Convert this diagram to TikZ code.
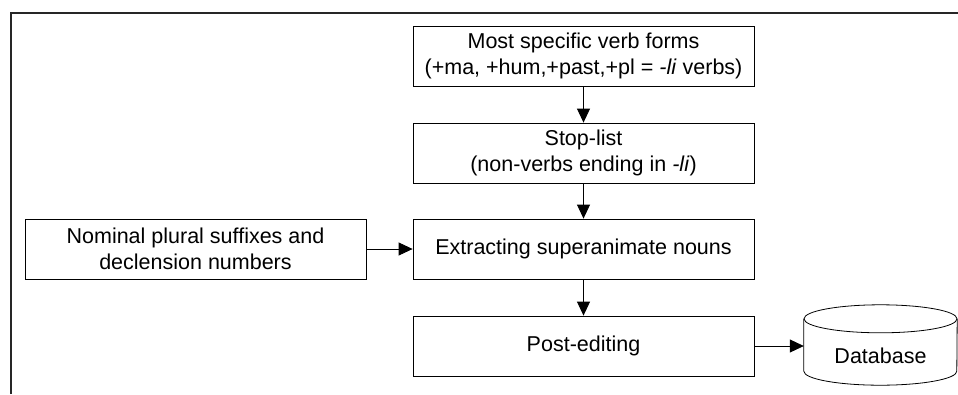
\documentclass[tikz,border=0pt]{standalone}
\usepackage{fontspec}
\setmainfont{Liberation Sans}
\usetikzlibrary{arrows.meta}
\tikzset{
  procbox/.style={draw, line width=0.8pt, minimum width=341pt, minimum height=60pt, inner sep=0pt, align=center, font=\fontsize{21.5}{26}\selectfont},
  flow/.style={line width=0.8pt, -{Triangle[length=14pt,width=13pt]}},
  frameline/.style={line width=1.2pt, draw=black!85}
}
\begin{document}
\begin{tikzpicture}[x=1pt,y=-1pt]
\useasboundingbox (0,0) rectangle (958,394);
% frame
\coordinate (fl) at (11,394);
\coordinate (fc) at (11,13);
\coordinate (fr) at (958,13);
\draw[frameline] (fl) -- (fc) -- (fr);
% boxes
\node[procbox] (b1) at (583.5,56) {Most specific verb forms\\(+ma, +hum,+past,+pl = \textit{-li} verbs)};
\node[procbox] (b2) at (583.5,153) {Stop-list\\(non-verbs ending in \textit{-li})};
\node[procbox] (b3) at (583.5,249) {Extracting superanimate nouns};
\node[procbox] (b4) at (583.5,346) {Post-editing};
\node[procbox] (nom) at (195.5,249) {Nominal plural suffixes and\\declension numbers};
% database cylinder
\node[minimum width=153pt, minimum height=80pt, inner sep=0pt] (db) at (880.5,345) {};
\node[font=\fontsize{21.5}{26}\selectfont, inner sep=0pt] (dbl) at (880.5,356) {Database};
\draw[line width=0.8pt] ([yshift=-14pt]db.north) ellipse [x radius=76.5pt, y radius=14pt];
\draw[line width=0.8pt] ([yshift=-14pt]db.north west) -- ([yshift=14pt]db.south west)
  arc[start angle=180, end angle=360, x radius=76.5pt, y radius=14pt] -- ([yshift=-14pt]db.north east);
% connectors
\draw[flow] (b1) -- (b2);
\draw[flow] (b2) -- (b3);
\draw[flow] (b3) -- (b4);
\draw[flow] (nom) -- (b3);
\draw[flow] (b4.east) -- (b4.east -| db.west);
\end{tikzpicture}
\end{document}
